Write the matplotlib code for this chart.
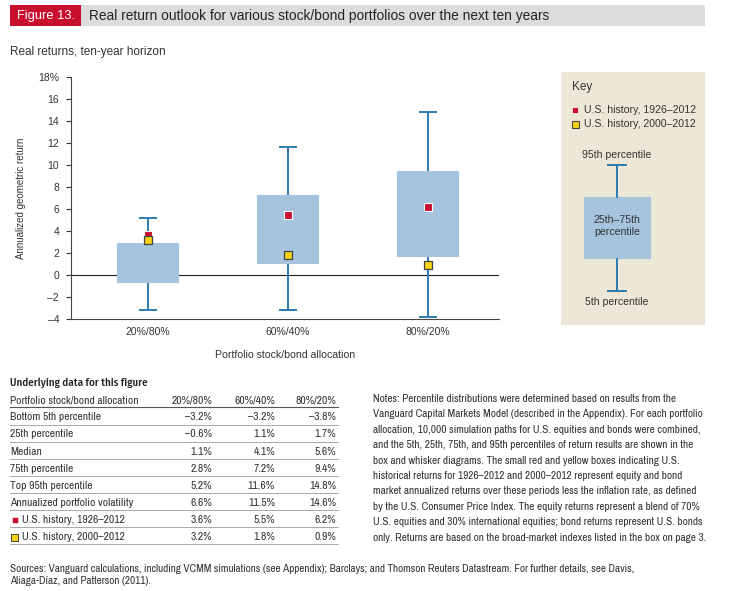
import matplotlib
matplotlib.use("Agg")
import matplotlib.pyplot as plt
from matplotlib.patches import Rectangle

# data from the figure / its table
categories = ['20%/80%', '60%/40%', '80%/20%']
p5 = [-3.2, -3.2, -3.8]
p25 = [-0.6, 1.1, 1.7]
median = [1.1, 4.1, 5.6]
p75 = [2.8, 7.2, 9.4]
p95 = [5.2, 11.6, 14.8]
volatility = [6.6, 11.5, 14.6]
hist_1926 = [3.6, 5.5, 6.2]
hist_2000 = [3.2, 1.8, 0.9]
yticks = [-4, -2, 0, 2, 4, 6, 8, 10, 12, 14, 16, 18]

W, H = 743, 591
RED = '#c8102e'
BOXC = '#a7c4de'
WHISK = '#2b7bb0'
YEL = '#f7d117'
TXT = '#333333'
NARROW = ['Archivo Narrow', 'DejaVu Sans']
NARROW_B = ['Fira Sans Condensed', 'DejaVu Sans']
REG = ['Liberation Sans', 'DejaVu Sans']

plt.rcParams['font.family'] = REG

fig = plt.figure(figsize=(W / 100, H / 100), dpi=100)
fig.patch.set_facecolor('white')

# overlay in pixel coordinates for the page furniture
ov = fig.add_axes([0, 0, 1, 1], zorder=0)
ov.set_xlim(0, W)
ov.set_ylim(H, 0)
ov.axis('off')

def box(x0, y0, x1, y1, **kw):
    ov.add_patch(Rectangle((x0, y0), x1 - x0, y1 - y0, **kw))

# title bar
box(81, 5, 705, 26, color='#dcdcdc', lw=0)
box(10, 5, 81, 26, color=RED, lw=0)
ov.text(17, 16, 'Figure 13.', color='white', fontsize=9.3, va='center')
ov.text(89, 16, 'Real return outlook for various stock/bond portfolios over the next ten years',
        color='#222222', fontsize=9.9, va='center')
ov.text(10, 52.5, 'Real returns, ten-year horizon', color=TXT, fontsize=8.5, va='center')

# main chart
ax = fig.add_axes([71 / W, 1 - 319 / H, (499 - 71) / W, (319 - 77) / H], zorder=2)
ax.patch.set_visible(False)
x = list(range(len(categories)))
ax.bar(x, [b - a for a, b in zip(p25, p75)], bottom=p25, width=0.43,
       color=BOXC, edgecolor=BOXC, lw=1.5, zorder=2)
ax.vlines(x, p5, p25, color=WHISK, lw=1.4, zorder=1)
ax.vlines(x, p75, p95, color=WHISK, lw=1.4, zorder=1)
ax.hlines(p5, [i - 0.065 for i in x], [i + 0.065 for i in x], color=WHISK, lw=1.4, zorder=1)
ax.hlines(p95, [i - 0.065 for i in x], [i + 0.065 for i in x], color=WHISK, lw=1.4, zorder=1)
ax.axhline(0, color='#222222', lw=0.8, zorder=0)
ax.scatter(x, hist_1926, marker='s', s=34, color=RED, edgecolor='white', lw=0.8, zorder=4)
ax.scatter(x, hist_2000, marker='s', s=40, color=YEL, edgecolor='#444444', lw=0.9, zorder=5)
ax.set_xlim(-0.55, 2.51)
ax.set_ylim(-4, 18)
ax.set_yticks(yticks)
ax.set_yticklabels([('%d%%' % t) if t == 18 else str(t).replace('-', '\u2013') for t in yticks])
ax.set_xticks(x)
ax.set_xticklabels(categories)
ax.tick_params(axis='y', labelsize=7.5, colors=TXT, length=3.6, width=0.8, pad=5)
ax.tick_params(axis='x', labelsize=7.5, colors=TXT, length=0, pad=6)
for s in ['top', 'right']:
    ax.spines[s].set_visible(False)
for s in ['left', 'bottom']:
    ax.spines[s].set_color('#444444')
    ax.spines[s].set_linewidth(0.8)
ax.set_ylabel('Annualized geometric return', fontsize=7, color=TXT, labelpad=9)
ax.set_xlabel('Portfolio stock/bond allocation', fontsize=7.6, color=TXT, labelpad=9)

# key panel
box(561, 72, 705, 325, color='#ece7d6', lw=0)
ov.text(572, 87, 'Key', fontsize=8.5, color=TXT, va='center')
box(572, 107, 578, 113, facecolor=RED, edgecolor='white', lw=0.5)
ov.text(584, 110, 'U.S. history, 1926\u20132012', fontsize=7.6, color=TXT, va='center')
box(571.5, 120.5, 578.5, 127.5, facecolor=YEL, edgecolor='#444444', lw=0.8)
ov.text(584, 124, 'U.S. history, 2000\u20132012', fontsize=7.6, color=TXT, va='center')
ov.text(617, 155, '95th percentile', fontsize=7.6, color=TXT, ha='center', va='center')
ov.plot([617, 617], [165, 197], color=WHISK, lw=1.4)
ov.plot([617, 617], [259, 291], color=WHISK, lw=1.4)
ov.plot([608, 626], [165, 165], color=WHISK, lw=1.4)
ov.plot([608, 626], [291, 291], color=WHISK, lw=1.4)
box(584, 197, 651, 259, color=BOXC, lw=0)
ov.text(617, 226, '25th\u201375th\npercentile', fontsize=7.6, color=TXT, ha='center', va='center',
        linespacing=1.3)
ov.text(617, 302, '5th percentile', fontsize=7.6, color=TXT, ha='center', va='center')

# underlying data table
def pct(v):
    return ('%.1f%%' % v).replace('-', '\u2013')

rows = [('Bottom 5th percentile', p5), ('25th percentile', p25), ('Median', median),
        ('75th percentile', p75), ('Top 95th percentile', p95),
        ('Annualized portfolio volatility', volatility),
        ('U.S. history, 1926\u20132012', hist_1926), ('U.S. history, 2000\u20132012', hist_2000)]
col_x = [212, 275, 336]
ov.text(10, 382.5, 'Underlying data for this figure', fontsize=7.9, color='#222222',
        va='center', family=NARROW_B, weight='medium')
ov.text(10, 400, 'Portfolio stock/bond allocation', fontsize=8.3, color=TXT, va='center', family=NARROW)
for cx, c in zip(col_x, categories):
    ov.text(cx, 400, c, fontsize=8.3, color=TXT, va='center', ha='right', family=NARROW)
ov.plot([10, 338], [407, 407], color='#555555', lw=0.8)
y = 417.3
for i, (lab, vals) in enumerate(rows):
    tx = 10
    if i == 6:
        box(11.5, y - 3, 17.5, y + 3, facecolor=RED, edgecolor='white', lw=0.4)
        tx = 22
    elif i == 7:
        box(11, y - 3.5, 18, y + 3.5, facecolor=YEL, edgecolor='#444444', lw=0.7)
        tx = 22
    ov.text(tx, y, lab, fontsize=8.3, color=TXT, va='center', family=NARROW)
    for cx, v in zip(col_x, vals):
        ov.text(cx, y, pct(v), fontsize=8.3, color=TXT, va='center', ha='right', family=NARROW)
    ov.plot([10, 338], [y + 7.2, y + 7.2], color='#9a9a9a', lw=0.6)
    y += 17.1

notes = [
    'Notes: Percentile distributions were determined based on results from the',
    'Vanguard Capital Markets Model (described in the Appendix). For each portfolio',
    'allocation, 10,000 simulation paths for U.S. equities and bonds were combined,',
    'and the 5th, 25th, 75th, and 95th percentiles of return results are shown in the',
    'box and whisker diagrams. The small red and yellow boxes indicating U.S.',
    'historical returns for 1926\u20132012 and 2000\u20132012 represent equity and bond',
    'market annualized returns over these periods less the inflation rate, as defined',
    'by the U.S. Consumer Price Index. The equity returns represent a blend of 70%',
    'U.S. equities and 30% international equities; bond returns represent U.S. bonds',
    'only. Returns are based on the broad-market indexes listed in the box on page 3.',
]
for i, line in enumerate(notes):
    ov.text(373, 399 + i * 15.4, line, fontsize=8.1, color=TXT, va='center', family=NARROW)

ov.text(10, 569.5, 'Sources: Vanguard calculations, including VCMM simulations (see Appendix); Barclays; '
        'and Thomson Reuters Datastream. For further details, see Davis,',
        fontsize=8.0, color=TXT, va='center', family=NARROW)
ov.text(10, 581.5, 'Aliaga-D\u00edaz, and Patterson (2011).', fontsize=8.0, color=TXT, va='center',
        family=NARROW)

fig.savefig('out.png', dpi=100)
